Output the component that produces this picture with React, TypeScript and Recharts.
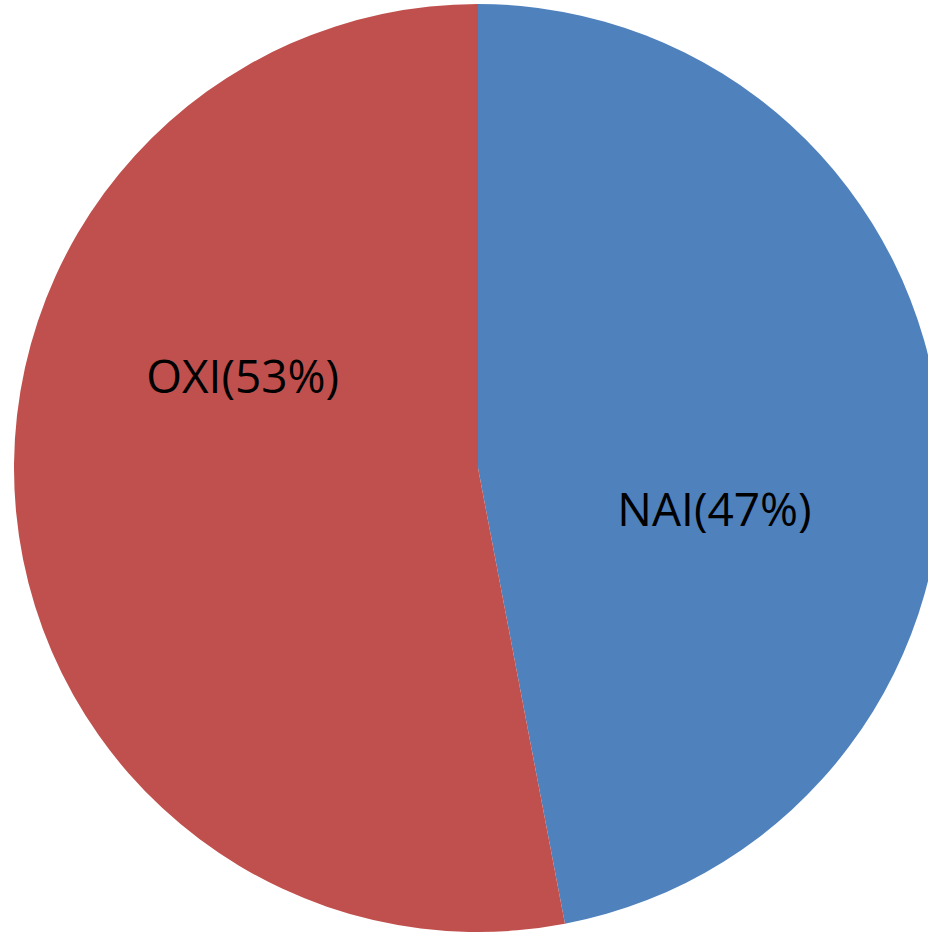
import { PieChart, Pie, Cell } from 'recharts';

const names = ['NAI', 'OXI'];
const shares = [47, 53];
const colors = ['#4F81BD', '#C0504D'];

// where each label sits, relative to the pie centre (angle in degrees, radius fraction)
const labelSpots = [
  { angle: -9.6, frac: 0.517 },
  { angle: 158.5, frac: 0.545 },
];

const data = names.map((n, i) => ({ name: n, value: shares[i] }));

const RADIAN = Math.PI / 180;

function renderLabel(props: any) {
  const { cx, cy, outerRadius, index } = props;
  const spot = labelSpots[index];
  const r = outerRadius * spot.frac;
  const x = cx + r * Math.cos(spot.angle * RADIAN);
  const y = cy - r * Math.sin(spot.angle * RADIAN);
  return (
    <text
      x={x}
      y={y}
      fill="#000"
      textAnchor="middle"
      dominantBaseline="central"
      fontSize={46}
      fontFamily="'Open Sans', sans-serif"
    >
      {`${data[index].name}(${data[index].value}%)`}
    </text>
  );
}

export default function App() {
  return (
    <div style={{ position: 'fixed', left: 0, top: 0, background: '#fff' }}>
      <PieChart width={928} height={932} margin={{ top: 0, right: 0, bottom: 0, left: 0 }}>
        <Pie
          data={data}
          dataKey="value"
          cx={478}
          cy={468}
          outerRadius={464}
          startAngle={90}
          endAngle={-270}
          stroke="none"
          label={renderLabel}
          labelLine={false}
          isAnimationActive={false}
        >
          {data.map((_, i) => (
            <Cell key={i} fill={colors[i]} />
          ))}
        </Pie>
      </PieChart>
    </div>
  );
}
